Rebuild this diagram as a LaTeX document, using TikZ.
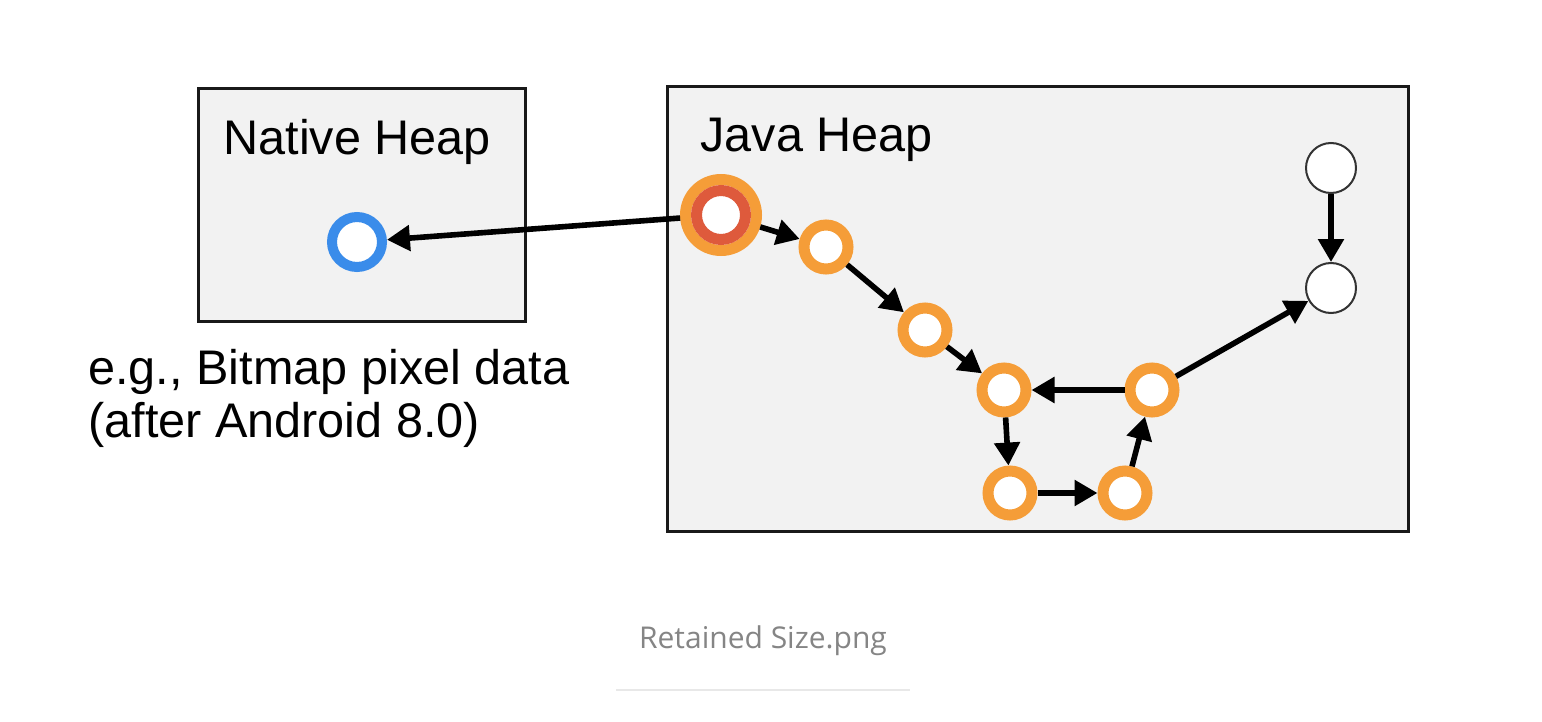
\documentclass[tikz,border=0pt]{standalone}
\usepackage{fontspec}
\setmainfont{Liberation Sans}
\newfontfamily\capfont{Open Sans}
\usetikzlibrary{arrows.meta}
\definecolor{boxfill}{HTML}{F2F2F2}
\definecolor{ringorange}{HTML}{F59D38}
\definecolor{ringred}{HTML}{DE5A3C}
\definecolor{ringblue}{HTML}{3A8CEA}
\definecolor{capgray}{HTML}{858585}
\definecolor{rulegray}{HTML}{E8E8E8}
\begin{document}
\begin{tikzpicture}[x=0.5pt,y=-0.5pt,
  heapbox/.style={draw=black!90,fill=boxfill,line width=1.5pt},
  heaplabel/.style={anchor=west,inner sep=0,font=\fontsize{24.3pt}{29pt}\selectfont},
  obj/.style={circle,draw=ringorange,fill=white,line width=5.5pt,minimum size=22pt,inner sep=0},
  freeobj/.style={circle,draw=black!80,fill=white,line width=1pt,minimum size=25pt,inner sep=0},
  ref/.style={line width=2.8pt,-{Triangle[length=11.5pt,width=12.5pt]}}
]
\useasboundingbox (0,0) rectangle (1542,722);
\fill[white] (0,0) rectangle (1542,722);
% boxes
\draw[heapbox] (198,89) rectangle (525,321);
\draw[heapbox] (667,87) rectangle (1408,531);
\node[heaplabel] (nh) at (223,142) {Native Heap};
\node[heaplabel] (jh) at (700,140) {Java Heap};
% native object
\node[circle,draw=ringblue,fill=white,line width=5pt,minimum size=25pt,inner sep=0] (blue) at (357,242) {};
% root
\node[circle,draw=ringorange,fill=white,line width=5.5pt,minimum size=35.5pt,inner sep=0] (root) at (721,215) {};
\draw[ringred,line width=5.5pt] (root.center) circle (12.25pt);
% java objects
\node[obj] (n1) at (826,247) {};
\node[obj] (n2) at (925,330) {};
\node[obj] (n3) at (1004,390) {};
\node[obj] (n4) at (1010,493) {};
\node[obj] (n5) at (1125,493) {};
\node[obj] (n6) at (1152,390) {};
\node[freeobj] (w1) at (1331,168) {};
\node[freeobj] (w2) at (1331,288) {};
% references
\draw[ref] (root) -- (blue);
\draw[ref] (root) -- (n1);
\draw[ref] (n1) -- (n2);
\draw[ref] (n2) -- (n3);
\draw[ref] (n6) -- (n3);
\draw[ref] (n3) -- (n4);
\draw[ref] (n4) -- (n5);
\draw[ref] (n5) -- (n6);
\draw[ref] (n6) -- (w2);
\draw[ref] (w1) -- (w2);
% note
\node[anchor=north west,inner sep=0,align=left,font=\fontsize{24.3pt}{26.5pt}\selectfont] (note) at (88,349) {e.g., Bitmap pixel data\\(after Android 8.0)};
% caption
\node[inner sep=0,font=\capfont\fontsize{15pt}{18pt}\selectfont,text=capgray] (cap) at (763,641) {Retained Size.png};
\draw[rulegray,line width=1pt] (616,690) -- (910,690);
\end{tikzpicture}
\end{document}
